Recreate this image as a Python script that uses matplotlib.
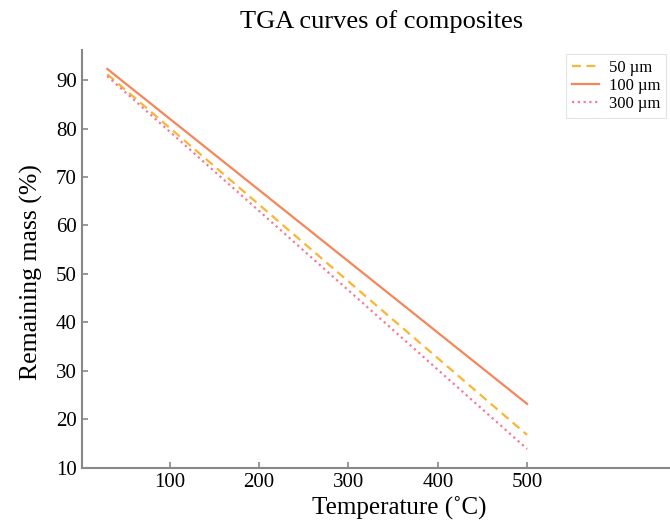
import matplotlib
matplotlib.use("Agg")
import matplotlib.pyplot as plt

temperature = [30, 500]
mass_50um = [91.2, 16.8]
mass_100um = [92.3, 23.2]
mass_300um = [90.8, 13.9]
labels = ["50 µm", "100 µm", "300 µm"]
xticks = [100, 200, 300, 400, 500]
yticks = [10, 20, 30, 40, 50, 60, 70, 80, 90]

plt.rcParams['font.family'] = ['Liberation Serif', 'DejaVu Serif']

fig = plt.figure(figsize=(6.70, 5.21), dpi=100)
ax = fig.add_axes([0.122, 0.102, 0.878, 0.802])

ax.plot(temperature, mass_50um, color='#FBB535', lw=1.6, ls=(0, (4, 2.5)), label=labels[0])
ax.plot(temperature, mass_100um, color='#F5865A', lw=1.6, ls='-', label=labels[1])
ax.plot(temperature, mass_300um, color='#F27A9B', lw=1.6, ls=(0, (1, 1.6)), label=labels[2])

ax.set_xlim(1.4, 660)
ax.set_ylim(10, 96.2)
ax.set_xticks(xticks)
ax.set_yticks(yticks)
ax.tick_params(labelsize=15, direction='in', length=4, width=1.2, color='#888888')
for s in ['top', 'right']:
    ax.spines[s].set_visible(False)
for s in ['left', 'bottom']:
    ax.spines[s].set_color('#888888')
    ax.spines[s].set_linewidth(1.5)

ax.set_xlabel("Temperature (˚C)", fontsize=18)
ax.set_ylabel("Remaining mass (%)", fontsize=18.5)
ax.xaxis.set_label_coords(0.54, -0.068)
ax.yaxis.set_label_coords(-0.066, 0.469)
ax.set_title("TGA curves of composites", fontsize=19, pad=16, x=0.51)

leg = ax.legend(loc='upper right', bbox_to_anchor=(0.993, 0.99), fontsize=12,
                frameon=True, fancybox=False, handlelength=1.6, labelspacing=0.12,
                borderpad=0.35, handletextpad=0.6, borderaxespad=0)
leg.get_frame().set_edgecolor('#dddddd')
leg.get_frame().set_linewidth(0.8)

fig.savefig("out.png", dpi=100)
